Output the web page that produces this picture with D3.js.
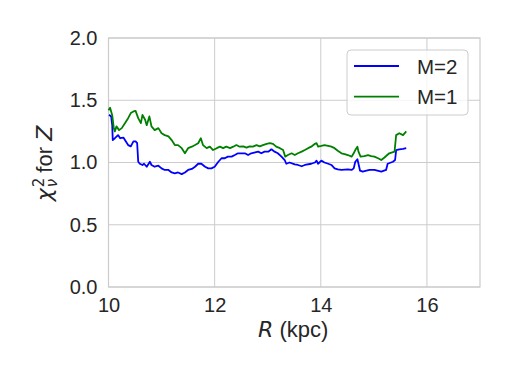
<!DOCTYPE html>
<html>
<head>
<meta charset="utf-8">
<script src="https://cdn.jsdelivr.net/npm/d3@7"></script>
<style>
  body { margin: 0; background: #fff; }
  text { font-family: "Liberation Sans", Arial, sans-serif; fill: #262626; }
</style>
</head>
<body>
<script>
// chart size
var width = 509;
var height = 377;
var margin = {top: 38, right: 29, bottom: 90, left: 108.5};

// data: R (kpc) and reduced chi^2
var rM2 = [10.01, 10.05, 10.07, 10.08, 10.12, 10.18, 10.22, 10.28, 10.31, 10.37, 10.42, 10.47, 10.51, 10.54,
  10.56, 10.59, 10.64, 10.67, 10.72, 10.78, 10.81, 10.87, 10.94, 11.00, 11.06, 11.13, 11.19, 11.25, 11.31,
  11.38, 11.44, 11.50, 11.57, 11.63, 11.69, 11.75, 11.82, 11.88, 11.94, 12.00, 12.07, 12.13, 12.19, 12.25,
  12.32, 12.38, 12.44, 12.57, 12.63, 12.69, 12.82, 12.88, 12.94, 13.01, 13.07, 13.13, 13.19, 13.26, 13.32,
  13.35, 13.41, 13.51, 13.57, 13.64, 13.70, 13.82, 13.89, 13.92, 13.95, 14.01, 14.07, 14.14, 14.20, 14.26,
  14.32, 14.39, 14.51, 14.58, 14.62, 14.65, 14.69, 14.71, 14.74, 14.79, 14.86, 14.92, 15.01, 15.14, 15.23,
  15.26, 15.36, 15.40, 15.42, 15.48, 15.55, 15.61];
var chiM2 = [1.383, 1.37, 1.30, 1.18, 1.195, 1.22, 1.195, 1.20, 1.18, 1.14, 1.13, 1.17, 1.17, 1.155,
  1.006, 0.99, 0.98, 0.99, 0.966, 1.006, 0.98, 0.966, 0.974, 0.953, 0.94, 0.94, 0.92, 0.913, 0.92,
  0.907, 0.92, 0.94, 0.948, 0.966, 0.99, 0.99, 0.966, 0.953, 0.953, 0.966, 1.006, 1.034, 1.034, 1.047,
  1.047, 1.06, 1.074, 1.074, 1.06, 1.074, 1.087, 1.074, 1.087, 1.087, 1.106, 1.087, 1.074, 1.047, 1.02,
  0.99, 1.0, 0.985, 0.98, 0.97, 0.98, 0.99, 1.0, 1.015, 0.99, 1.015, 1.0, 0.99, 0.98, 0.953,
  0.945, 0.94, 0.945, 0.94, 0.953, 1.006, 1.026, 0.99, 0.934, 0.926, 0.934, 0.94, 0.94, 0.926, 0.94,
  0.99, 1.006, 1.02, 1.10, 1.106, 1.11, 1.115];

var rM1 = [10.00, 10.03, 10.07, 10.10, 10.12, 10.15, 10.20, 10.25, 10.31, 10.37, 10.42, 10.47, 10.51, 10.56,
  10.61, 10.64, 10.69, 10.72, 10.77, 10.81, 10.87, 10.94, 11.00, 11.06, 11.13, 11.19, 11.25, 11.31, 11.38,
  11.44, 11.50, 11.57, 11.63, 11.69, 11.74, 11.78, 11.85, 11.91, 11.97, 12.04, 12.10, 12.16, 12.22, 12.29,
  12.35, 12.41, 12.47, 12.54, 12.60, 12.66, 12.72, 12.79, 12.85, 12.91, 12.98, 13.04, 13.10, 13.16, 13.23,
  13.29, 13.33, 13.38, 13.45, 13.51, 13.57, 13.64, 13.70, 13.76, 13.82, 13.89, 13.92, 13.95, 14.01, 14.07,
  14.14, 14.20, 14.26, 14.32, 14.39, 14.45, 14.51, 14.58, 14.62, 14.65, 14.69, 14.71, 14.75, 14.82, 14.89,
  14.95, 15.01, 15.08, 15.14, 15.20, 15.29, 15.39, 15.42, 15.48, 15.55, 15.61];
var chiM1 = [1.42, 1.44, 1.38, 1.276, 1.25, 1.29, 1.26, 1.276, 1.316, 1.356, 1.397, 1.41, 1.415, 1.356,
  1.316, 1.383, 1.343, 1.30, 1.37, 1.29, 1.26, 1.276, 1.235, 1.22, 1.21, 1.18, 1.14, 1.14, 1.115,
  1.074, 1.115, 1.127, 1.14, 1.155, 1.195, 1.14, 1.115, 1.127, 1.10, 1.115, 1.127, 1.115, 1.127, 1.115,
  1.127, 1.14, 1.127, 1.13, 1.12, 1.13, 1.127, 1.14, 1.13, 1.14, 1.15, 1.155, 1.15, 1.127, 1.115,
  1.10, 1.047, 1.06, 1.074, 1.06, 1.074, 1.087, 1.10, 1.115, 1.127, 1.15, 1.155, 1.127, 1.133, 1.14,
  1.133, 1.127, 1.115, 1.095, 1.074, 1.068, 1.06, 1.047, 1.074, 1.10, 1.127, 1.087, 1.047, 1.052, 1.06,
  1.052, 1.047, 1.034, 1.02, 1.04, 1.074, 1.087, 1.22, 1.235, 1.22, 1.25];

var xTicks = [10, 12, 14, 16];
var yTicks = [0, 0.5, 1.0, 1.5, 2.0];
var seriesNames = ['M=2', 'M=1'];
var seriesColors = ['#0000ff', '#008000'];

var innerW = width - margin.left - margin.right;
var innerH = height - margin.top - margin.bottom;
var mathFont = '"DejaVu Sans", sans-serif';

var svg = d3.select('body').append('svg')
  .attr('width', width)
  .attr('height', height);

var g = svg.append('g')
  .attr('transform', 'translate(' + margin.left + ',' + margin.top + ')');

var x = d3.scaleLinear().domain([10, 17]).range([0, innerW]);
var y = d3.scaleLinear().domain([0, 2]).range([innerH, 0]);

// grid lines
g.selectAll('.xgrid').data(xTicks).enter().append('line')
  .attr('x1', function(d) { return x(d); })
  .attr('x2', function(d) { return x(d); })
  .attr('y1', 0).attr('y2', innerH)
  .attr('stroke', '#cccccc').attr('stroke-width', 1);
g.selectAll('.ygrid').data(yTicks).enter().append('line')
  .attr('y1', function(d) { return y(d); })
  .attr('y2', function(d) { return y(d); })
  .attr('x1', 0).attr('x2', innerW)
  .attr('stroke', '#cccccc').attr('stroke-width', 1);

// frame
g.append('rect')
  .attr('width', innerW).attr('height', innerH)
  .attr('fill', 'none').attr('stroke', '#cccccc').attr('stroke-width', 1.2);

// axes (labels only, no tick marks)
var xAxis = g.append('g')
  .attr('transform', 'translate(0,' + innerH + ')')
  .call(d3.axisBottom(x).tickValues(xTicks).tickSize(0).tickPadding(11).tickFormat(d3.format('d')));
var yAxis = g.append('g')
  .call(d3.axisLeft(y).tickValues(yTicks).tickSize(0).tickPadding(11).tickFormat(d3.format('.1f')));
[xAxis, yAxis].forEach(function(a) {
  a.select('.domain').remove();
  a.selectAll('text').attr('font-size', 20).attr('fill', '#262626')
    .attr('font-family', '"Liberation Sans", Arial, sans-serif');
});

// lines
var line = d3.line()
  .x(function(d) { return x(d[0]); })
  .y(function(d) { return y(d[1]); });

var series = [d3.zip(rM2, chiM2), d3.zip(rM1, chiM1)];
g.selectAll('.series').data(series).enter().append('path')
  .attr('d', line)
  .attr('fill', 'none')
  .attr('stroke', function(d, i) { return seriesColors[i]; })
  .attr('stroke-width', 1.8)
  .attr('stroke-linejoin', 'round');

// axis titles
var xLabel = svg.append('text')
  .attr('x', margin.left + innerW / 2 - 1)
  .attr('y', 337)
  .attr('text-anchor', 'middle')
  .attr('font-size', 22);
xLabel.append('tspan').attr('font-style', 'italic').attr('font-family', mathFont).text('R');
xLabel.append('tspan').text('\u00a0(kpc)');

var yLabel = svg.append('text')
  .attr('transform', 'translate(52,' + (margin.top + innerH / 2 + 1) + ') rotate(-90)')
  .attr('text-anchor', 'middle')
  .attr('font-size', 22);
yLabel.append('tspan').attr('font-family', mathFont).attr('font-style', 'italic').text('\u03c7');
yLabel.append('tspan').attr('font-family', mathFont).attr('font-size', 15).attr('dy', -8).attr('dx', 1).text('2');
yLabel.append('tspan').attr('font-family', mathFont).attr('font-size', 15).attr('dy', 13).attr('dx', -9.5).attr('font-style', 'italic').text('\u03bd');
yLabel.append('tspan').attr('dy', -5).text('\u00a0for\u00a0');
yLabel.append('tspan').attr('font-family', mathFont).attr('font-style', 'italic').text('Z');

// legend
var legend = svg.append('g').attr('transform', 'translate(347,50)');
legend.append('rect')
  .attr('width', 121).attr('height', 65)
  .attr('rx', 4)
  .attr('fill', 'white').attr('fill-opacity', 0.8)
  .attr('stroke', '#cccccc');
var items = legend.selectAll('.item').data(seriesNames).enter().append('g')
  .attr('transform', function(d, i) { return 'translate(0,' + (16 + i * 30.7) + ')'; });
items.append('line')
  .attr('x1', 7).attr('x2', 52)
  .attr('stroke', function(d, i) { return seriesColors[i]; })
  .attr('stroke-width', 1.8);
items.append('text')
  .attr('x', 70).attr('y', 7.5)
  .attr('font-size', 20.5)
  .text(function(d) { return d; });
</script>
</body>
</html>
